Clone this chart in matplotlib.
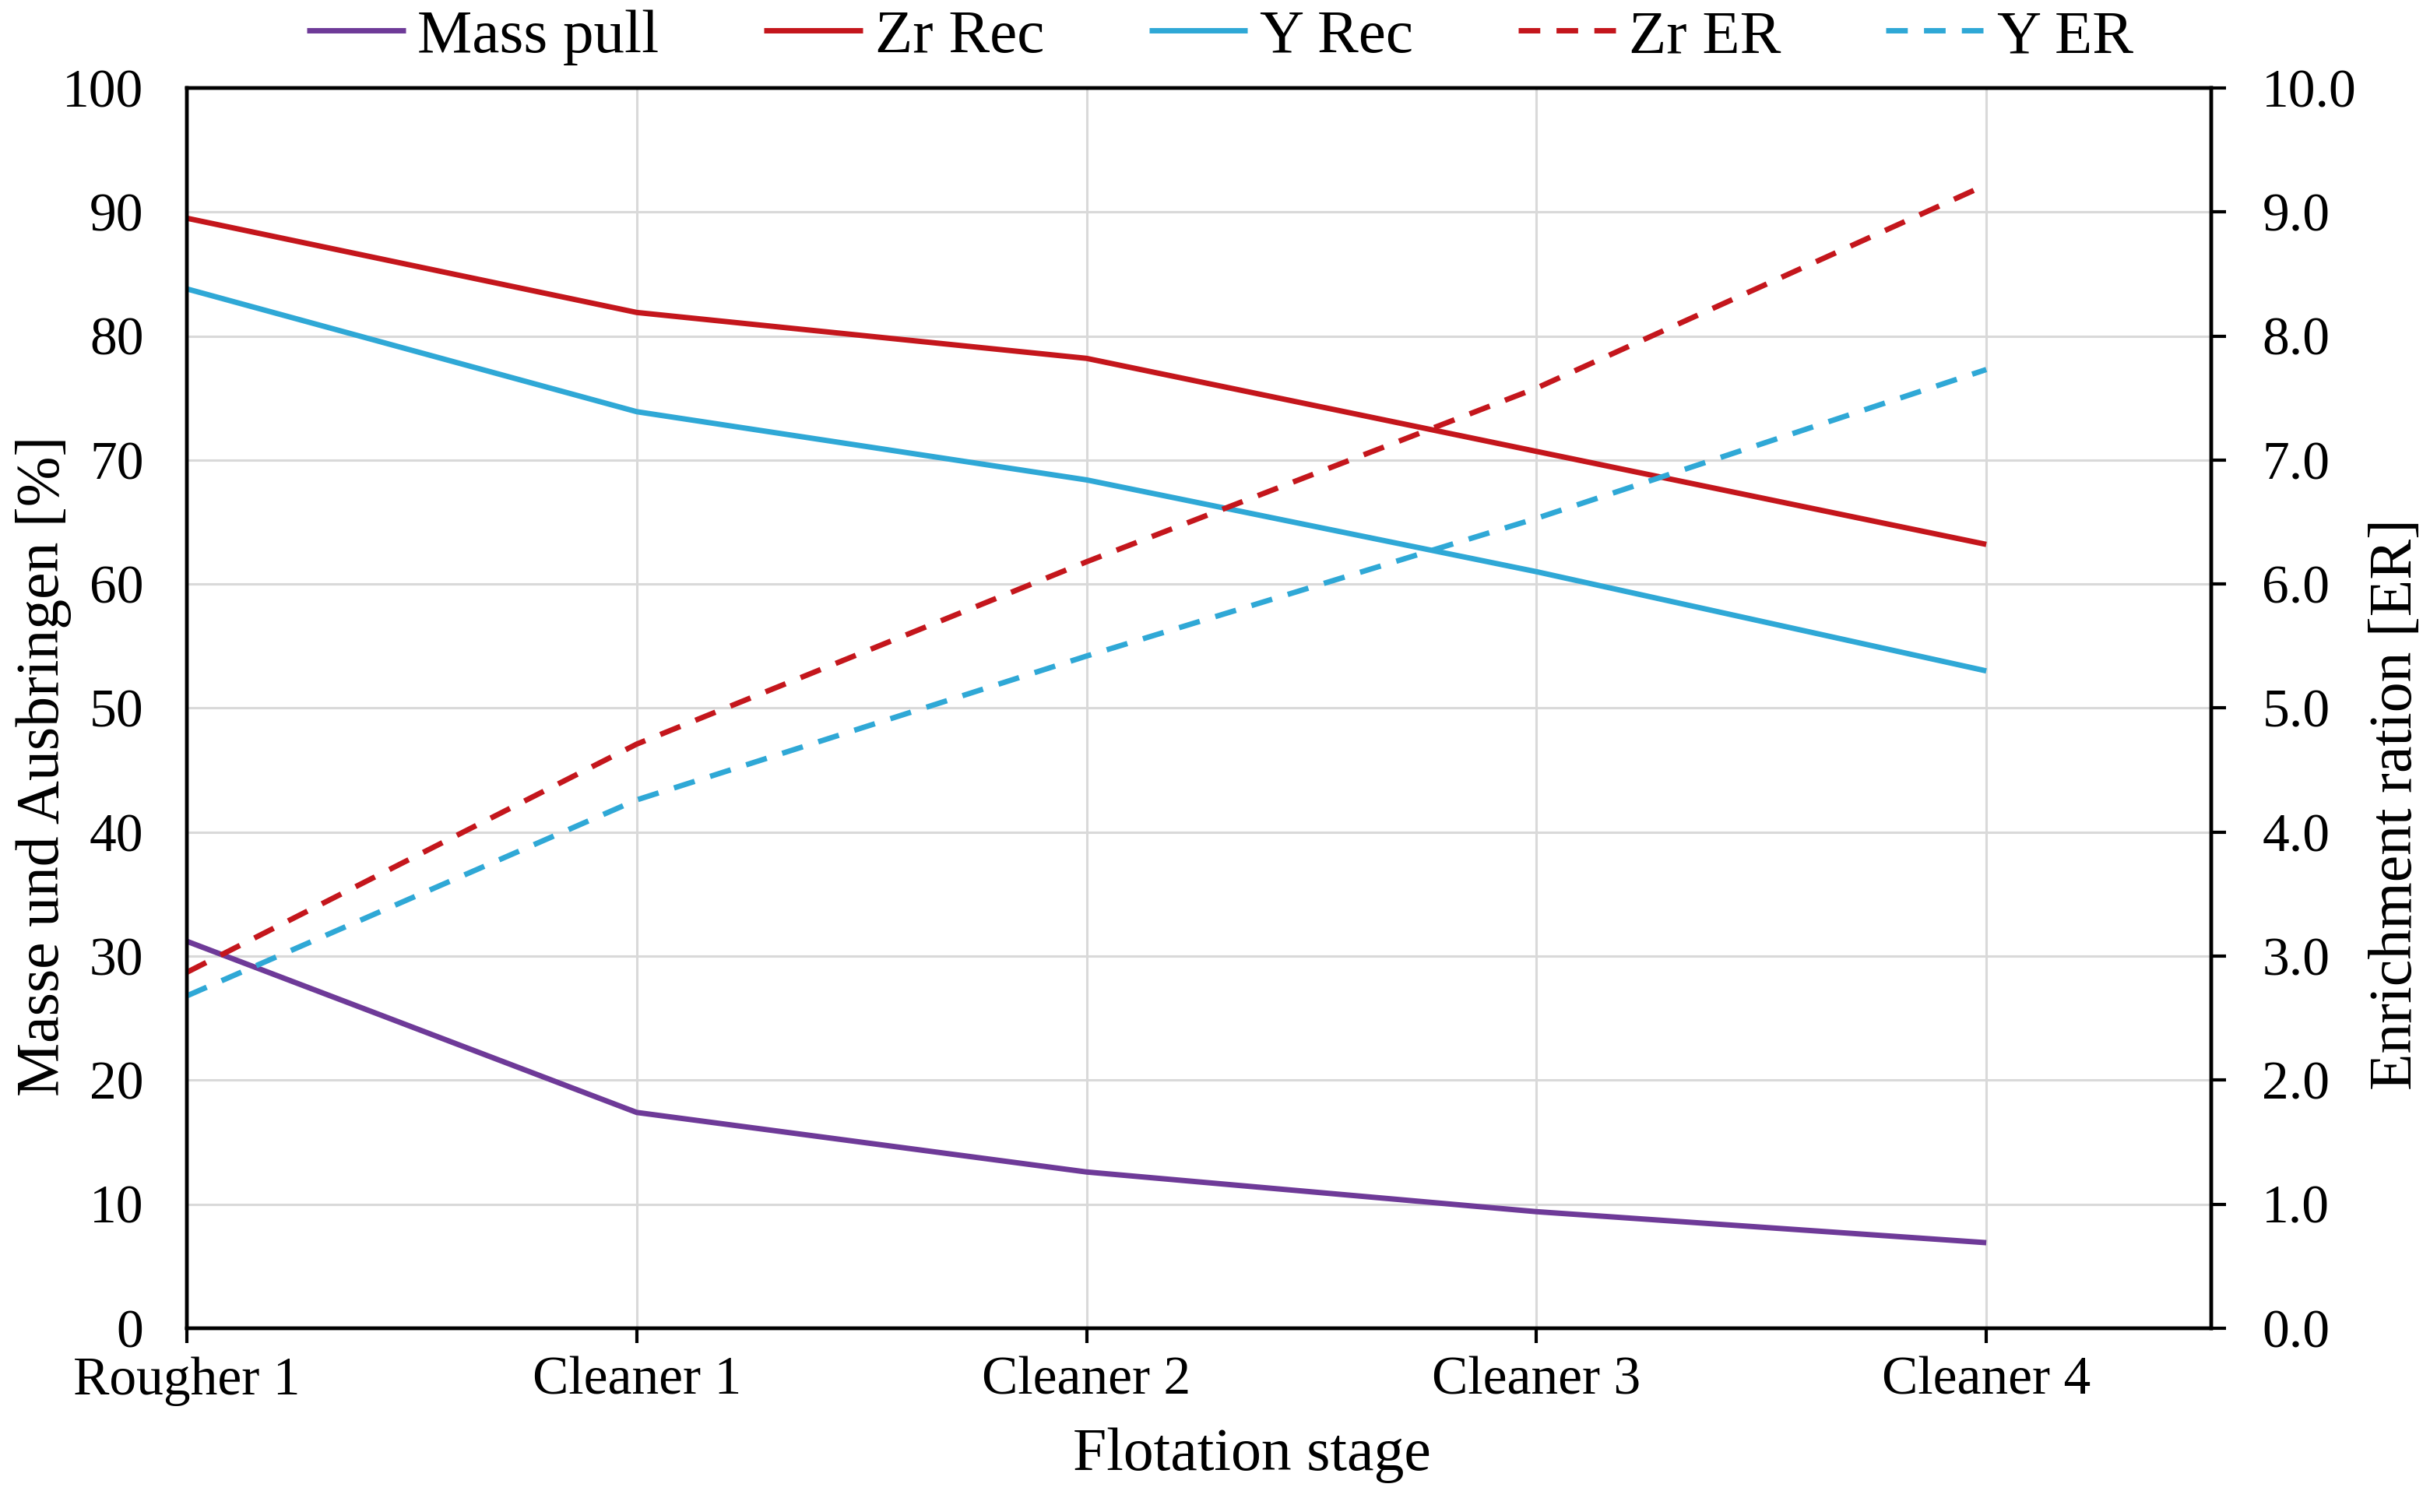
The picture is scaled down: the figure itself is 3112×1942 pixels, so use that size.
import matplotlib
matplotlib.use("Agg")
import matplotlib.pyplot as plt
from matplotlib.ticker import MultipleLocator, FormatStrFormatter

plt.rcParams['font.family'] = ['Liberation Serif', 'DejaVu Serif']

stages = ["Rougher 1", "Cleaner 1", "Cleaner 2", "Cleaner 3", "Cleaner 4"]
mass_pull = [31.2, 17.4, 12.6, 9.4, 6.9]
zr_rec = [89.5, 81.9, 78.2, 70.7, 63.2]
y_rec = [83.8, 73.9, 68.4, 61.0, 53.0]
zr_er = [2.87, 4.71, 6.18, 7.58, 9.22]
y_er = [2.68, 4.26, 5.42, 6.53, 7.73]

purple = '#6E3A98'
red = '#C4161C'
blue = '#2FA8D6'

fig = plt.figure(figsize=(31.12, 19.42), dpi=100)
fig.subplots_adjust(left=240/3112, right=2840/3112, top=1-113/1942, bottom=1-1706/1942)
ax = fig.add_subplot(111)
ax2 = ax.twinx()

x = list(range(len(stages)))
lw = 5
l1, = ax.plot(x, mass_pull, color=purple, lw=lw, label='Mass pull', solid_capstyle='butt')
l2, = ax.plot(x, zr_rec, color=red, lw=lw, label='Zr Rec', solid_capstyle='butt')
l3, = ax.plot(x, y_rec, color=blue, lw=lw, label='Y Rec', solid_capstyle='butt')
l4, = ax2.plot(x, zr_er, color=red, lw=lw, dashes=(4, 3), label='Zr ER', dash_capstyle='butt')
l5, = ax2.plot(x, y_er, color=blue, lw=lw, dashes=(4, 3), label='Y ER', dash_capstyle='butt')

ax.set_xlim(0, 4.5)
ax.set_ylim(0, 100)
ax2.set_ylim(0, 10)
ax.set_xticks(x)
ax.set_xticklabels(stages)
ax.yaxis.set_major_locator(MultipleLocator(10))
ax2.yaxis.set_major_locator(MultipleLocator(1))
ax2.yaxis.set_major_formatter(FormatStrFormatter('%.1f'))

ax.grid(True, color='#D9D9D9', lw=2.2)
ax.set_axisbelow(True)
ax2.grid(False)

for a in (ax, ax2):
    for s in a.spines.values():
        s.set_linewidth(3.2)
        s.set_color('black')

ax.tick_params(axis='y', length=0, pad=40, labelsize=50)
ax.tick_params(axis='x', length=14, width=3, pad=12, labelsize=50, direction='out')
ax2.tick_params(axis='y', length=14, width=3, pad=33, labelsize=50, direction='out')

ax.set_xlabel('Flotation stage', fontsize=56)
ax.xaxis.set_label_coords(0.526, -0.080)
ax.set_ylabel('Masse und Ausbringen [%]', fontsize=56)
ax.yaxis.set_label_coords(-0.057, 0.453)
ax2.set_ylabel('Enrichment ration [ER]', fontsize=56)
ax2.yaxis.set_label_coords(1.078, 0.4225)

fig.legend(handles=[l1, l2, l3, l4, l5], loc='center', bbox_to_anchor=(0.5035, 1-48/1942),
           ncol=5, frameon=False, fontsize=57, handlelength=1.6, handletextpad=0.2,
           columnspacing=1.7, borderaxespad=0, borderpad=0)

fig.savefig('out.png', dpi=100)
